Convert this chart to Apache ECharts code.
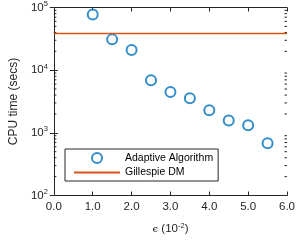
<!DOCTYPE html>
<html><head><meta charset="utf-8">
<script src="https://cdn.jsdelivr.net/npm/echarts@6/dist/echarts.min.js"></script>
<style>html,body{margin:0;padding:0;background:#fff}#c{width:298px;height:240px}</style>
</head><body><div id="c"></div>
<script>
var epsilon = [1.0, 1.5, 2.0, 2.5, 3.0, 3.5, 4.0, 4.5, 5.0, 5.5];
var adaptiveTime = [77000, 31000, 21000, 6900, 4500, 3550, 2300, 1580, 1320, 680];
var gillespieX = [0, 6];
var gillespieTime = [38400, 38400];
var xTicks = ['0.0','1.0','2.0','3.0','4.0','5.0','6.0'];
var seriesNames = ['Adaptive Algorithm', 'Gillespie DM'];
var decades = [100, 1000, 10000];

var minorVals = [];
decades.forEach(function(d){ for (var k = 2; k <= 9; k++) minorVals.push([k * d]); });

var FONT = 'Liberation Sans, Arial, sans-serif';
var TXT = '#262626';
var chart = echarts.init(document.getElementById('c'), null, {renderer:'canvas'});
function sup(v){
  var e = Math.round(Math.log10(v));
  return '{b|10}{s|' + e + '}';
}
var rich = {
  b:{fontSize:11.5, fontFamily:FONT, color:TXT},
  s:{fontSize:7.5, fontFamily:FONT, color:TXT, padding:[0,0,7,0]}
};
var axisLineStyle = {color:'#262626', width:1};
chart.setOption({
  animation:false,
  grid:{left:50, right:11, top:7, bottom:43, containLabel:false},
  xAxis:[{
    type:'value', min:0, max:6, interval:1,
    axisLine:{show:true, lineStyle:axisLineStyle},
    axisTick:{show:true, inside:true, length:4, lineStyle:axisLineStyle},
    splitLine:{show:false},
    axisLabel:{fontSize:11.5, fontFamily:FONT, color:TXT, margin:5,
      formatter:function(v){return xTicks[Math.round(v)];}},
    name:'{e|ϵ} {n|(10}{s|-2}{n|)}',
    nameLocation:'middle', nameGap:26,
    nameTextStyle:{rich:{
      e:{fontSize:10, fontFamily:'DejaVu Serif, serif', color:TXT},
      n:{fontSize:11.5, fontFamily:FONT, color:TXT},
      s:{fontSize:7.5, fontFamily:FONT, color:TXT, padding:[0,0,7,0]}
    }}
  },{
    type:'value', min:0, max:6, interval:1, position:'top',
    axisLine:{show:true, lineStyle:axisLineStyle},
    axisTick:{show:true, inside:true, length:4, lineStyle:axisLineStyle},
    axisLabel:{show:false}, splitLine:{show:false}
  }],
  yAxis:[{
    type:'log', logBase:10, min:100, max:100000,
    axisLine:{show:true, lineStyle:axisLineStyle},
    axisTick:{show:true, inside:true, length:4, lineStyle:axisLineStyle},
    splitLine:{show:false},
    axisLabel:{margin:6, formatter:sup, rich:rich},
    name:'CPU time (secs)', nameLocation:'middle', nameGap:32, nameRotate:90,
    nameTextStyle:{fontSize:12, fontFamily:FONT, color:TXT}
  },{
    type:'log', logBase:10, min:100, max:100000, position:'right',
    axisLine:{show:true, lineStyle:axisLineStyle},
    axisTick:{show:true, inside:true, length:4, lineStyle:axisLineStyle},
    axisLabel:{show:false}, splitLine:{show:false}
  }],
  legend:{
    orient:'vertical', left:65, top:149,
    backgroundColor:'#fff', borderColor:'#262626', borderWidth:1,
    padding:[3,5,3,8], itemGap:3, itemWidth:46, itemHeight:10,
    textStyle:{fontSize:10.5, fontFamily:FONT, color:'#000'},
    data:[{name:seriesNames[0], icon:'emptyCircle'},
          {name:seriesNames[1], itemStyle:{opacity:0}}]
  },
  series:[{
    name:'minorTicks', type:'custom', xAxisIndex:0, yAxisIndex:0,
    silent:true, z:1, clip:false,
    data:minorVals,
    encode:{y:0},
    renderItem:function(params, api){
      var v = api.value(0);
      var l = api.coord([0, v]);
      var r = api.coord([6, v]);
      var st = {stroke:'#262626', lineWidth:1};
      return {type:'group', children:[
        {type:'line', shape:{x1:l[0], y1:l[1], x2:l[0]+2.5, y2:l[1]}, style:st},
        {type:'line', shape:{x1:r[0]-2.5, y1:r[1], x2:r[0], y2:r[1]}, style:st}
      ]};
    }
  },{
    name:seriesNames[0], type:'scatter', xAxisIndex:0, yAxisIndex:0,
    symbol:'emptyCircle', symbolSize:10,
    itemStyle:{color:'#0072BD', borderColor:'#0072BD', borderWidth:1.6},
    data:epsilon.map(function(x,i){return [x, adaptiveTime[i]];})
  },{
    name:seriesNames[1], type:'line', xAxisIndex:0, yAxisIndex:0,
    showSymbol:false, symbol:'none',
    lineStyle:{color:'#D95319', width:1.5}, itemStyle:{color:'#D95319'},
    data:gillespieX.map(function(x,i){return [x, gillespieTime[i]];})
  }]
});
</script></body></html>
